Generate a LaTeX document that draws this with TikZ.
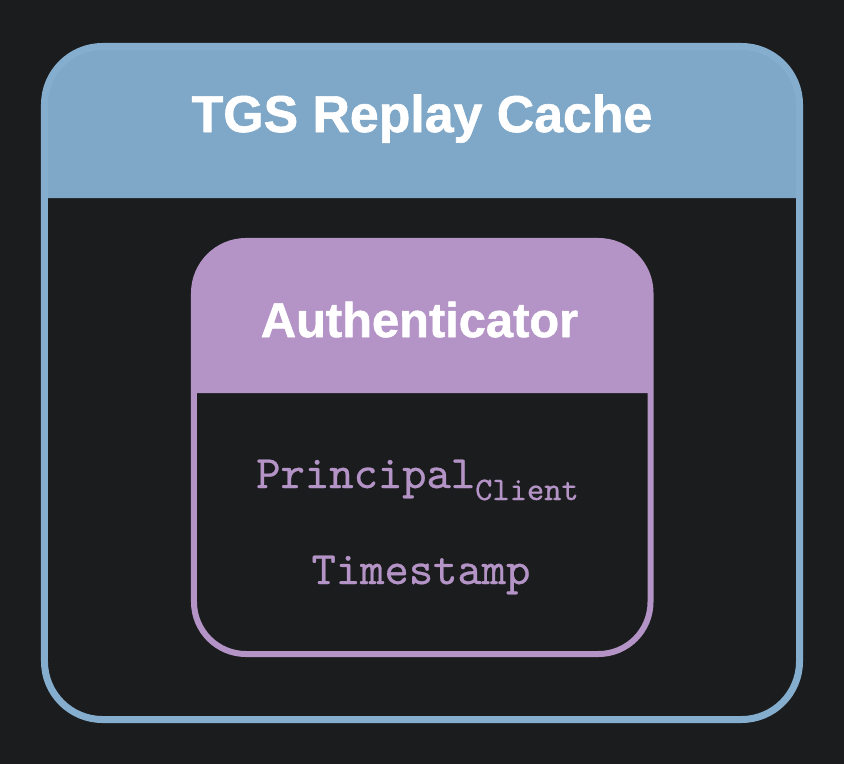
\documentclass[tikz,border=0pt]{standalone}
\usepackage{fontspec}
\setmainfont{Liberation Sans}[BoldFeatures={FakeBold=1.2}]
\setmonofont{lmmono10-regular.otf}[FakeBold=0.6]
\usepackage{xcolor}
\usepackage{tikz}
\usetikzlibrary{positioning}
\definecolor{bgdark}{HTML}{1B1C1D}
\definecolor{cacheblue}{HTML}{7FA8C8}
\definecolor{cacheline}{HTML}{84ADCE}
\definecolor{authpurple}{HTML}{B494C6}
\tikzset{CacheBox/.style={shape=rectangle,draw=cacheline,line width=7bp,rounded corners=58bp,inner sep=0pt},
	AuthBox/.style={shape=rectangle,draw=authpurple,line width=6bp,rounded corners=52bp,inner sep=0pt},
	HeadText/.style={text=white,inner sep=0pt,anchor=base,font=\fontsize{52}{56}\selectfont\bfseries},
	FieldText/.style={text=authpurple,inner sep=0pt,anchor=base,font=\fontsize{46.5}{50}\selectfont\ttfamily}}

\begin{document}
\begin{tikzpicture}[x=1bp,y=-1bp]
	\useasboundingbox[fill=bgdark] (0,0) rectangle (844,764);
	% headers
	\fill[cacheblue] (44.5,198) [rounded corners=58bp] -- (44.5,46.5) -- (799.5,46.5) [sharp corners] -- (799.5,198) -- cycle;
	\fill[authpurple] (194,393) [rounded corners=52bp] -- (194,241) -- (650.5,241) [sharp corners] -- (650.5,393) -- cycle;
	%
	\node[CacheBox,minimum width=755bp,minimum height=673bp] (cache) at (422,383) {};
	\node[AuthBox,minimum width=456.5bp,minimum height=413bp] (auth) at (422.25,447.5) {};
	%
	\node[HeadText] (cachetitle) at (422,132) {TGS Replay Cache};
	\node[HeadText,font=\fontsize{49}{53}\selectfont\bfseries] (authtitle) at (419.5,337) {Authenticator};
	\node[FieldText] (principal) at (417.5,488) {Principal\raisebox{-12bp}{\fontsize{33}{35}\selectfont Client}};
	\node[FieldText] (timestamp) at (421,584) {Timestamp};
\end{tikzpicture}
\end{document}
